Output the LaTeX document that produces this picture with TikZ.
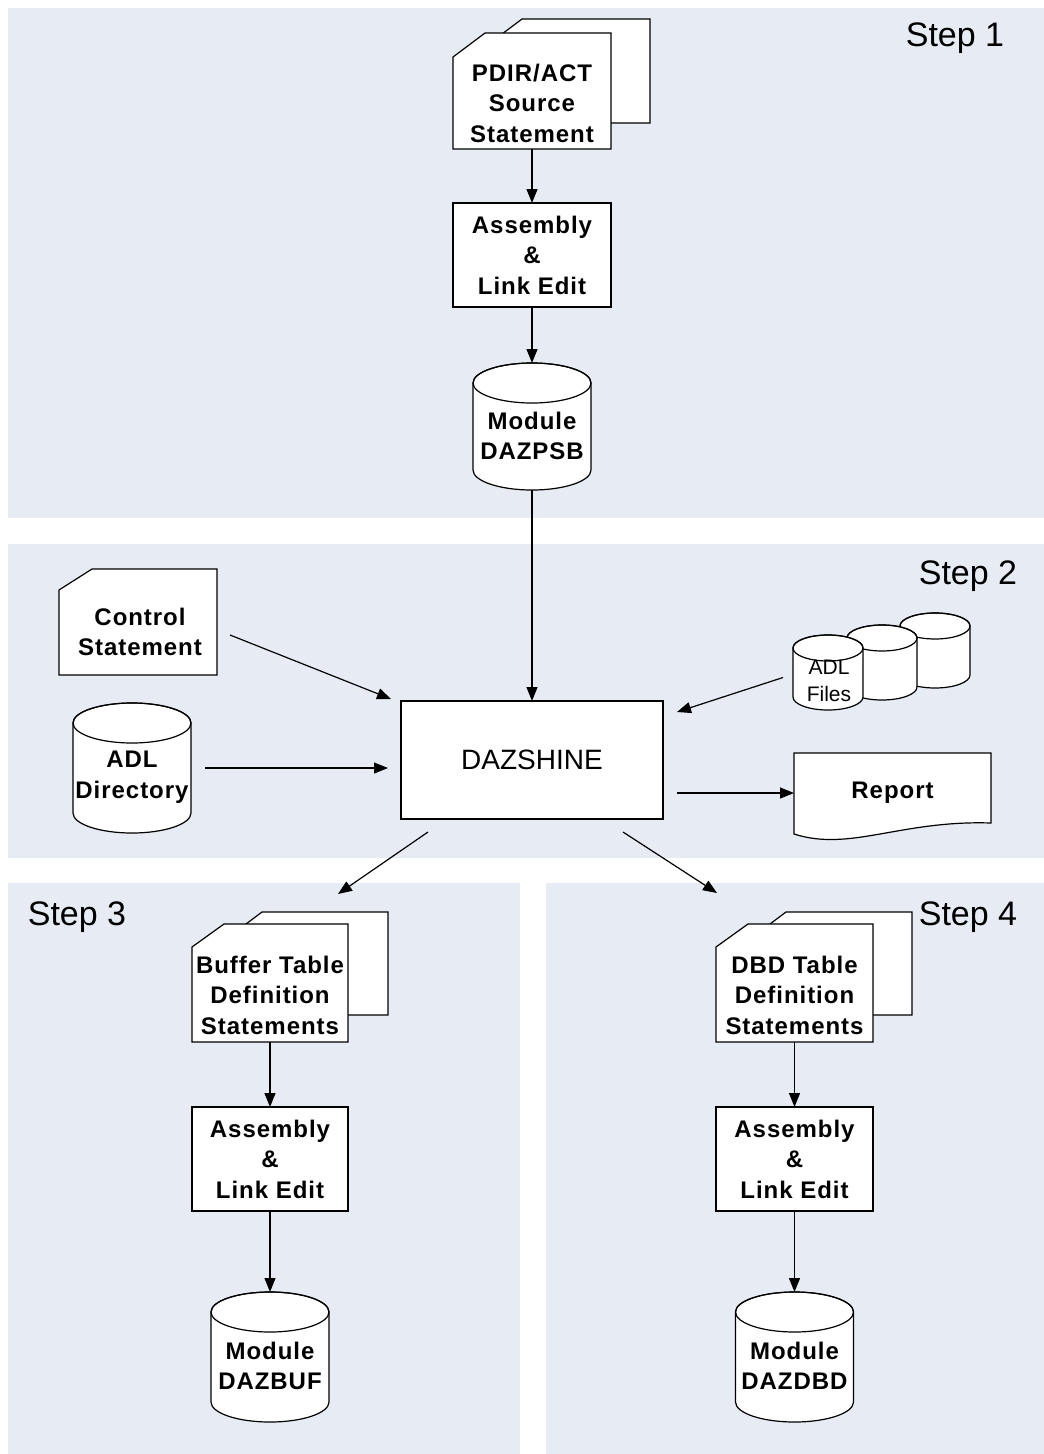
\documentclass[tikz,border=0pt]{standalone}
\usepackage{fontspec}
\setmainfont{Liberation Sans}
\usetikzlibrary{arrows.meta,calc}
\definecolor{panel}{RGB}{231,235,243}
\tikzset{
  outline/.style={draw=black, line width=1.2pt, fill=white, line join=miter},
  shapebox/.style={draw=none, inner sep=0pt, outer sep=0pt, rectangle},
  lbl/.style={align=center, font=\fontsize{24}{30.5}\selectfont\bfseries\addfontfeature{LetterSpace=4}, inner sep=0pt},
  smalllbl/.style={align=center, font=\fontsize{21}{27}\selectfont, inner sep=0pt},
  biglbl/.style={font=\fontsize{28}{32}\selectfont},
  steplbl/.style={font=\fontsize{34}{40}\selectfont, inner sep=0pt},
  arr/.style={draw=black, line width=1.2pt, -{Triangle[length=14pt,width=11pt]}},
}
\newcommand{\mycard}[6]{\draw[outline] (#1,#2+#6) -- (#1+#5,#2) -- (#3,#2) -- (#3,#4) -- (#1,#4) -- cycle;}
\newcommand{\mycyl}[5]{%
  \draw[outline] (#1-#4,#2+#5) -- (#1-#4,#3-#5) arc[start angle=180,end angle=360,x radius=#4pt,y radius=#5pt] -- (#1+#4,#2+#5) arc[start angle=0,end angle=180,x radius=#4pt,y radius=#5pt] -- cycle;
  \draw[line width=1.2pt] (#1,#2+#5) ellipse[x radius=#4pt, y radius=#5pt];}
\begin{document}
\begin{tikzpicture}[x=1pt,y=-1pt]
\useasboundingbox (0,0) rectangle (1044,1454);
% panels
\fill[white] (0,0) rectangle (1044,1454);
\fill[panel] (8,8) rectangle (1044,518);
\fill[panel] (8,544) rectangle (1044,858);
\fill[panel] (8,883) rectangle (520,1454);
\fill[panel] (546,883) rectangle (1044,1454);

% shape outlines
\mycard{490}{19}{650}{123}{32}{24}
\mycard{453}{33}{611}{149}{32}{24}
\draw[outline] (453,203) rectangle (611,307);
\mycyl{532}{363}{490}{59}{20}
\mycard{59}{569}{217}{675}{33}{21}
\mycyl{132}{703}{833}{59}{20}
\draw[outline] (401,701) rectangle (663,819);
\mycyl{935}{613}{688}{35}{13}
\mycyl{882}{625}{700}{35}{13}
\mycyl{828}{635}{710}{35}{13}
\draw[outline] (794,753) -- (991,753) -- (991,823) .. controls (900,820) and (850,852) .. (794,834) -- cycle;
\mycard{230}{912}{388}{1015}{32}{24}
\mycard{192}{924}{348}{1042}{32}{23}
\draw[outline] (192,1107) rectangle (348,1211);
\mycyl{270}{1292}{1422}{59}{20}
\mycard{754}{912}{912}{1015}{32}{24}
\mycard{716}{924}{873}{1042}{32}{23}
\draw[outline] (716,1107) rectangle (873,1211);
\mycyl{794.5}{1292}{1422}{59}{20}

% shape nodes
\node[shapebox, minimum width=158pt, minimum height=116pt] (pdir) at (532,91) {};
\node[shapebox, lbl, minimum width=158pt, minimum height=104pt] (asmA) at (532,255) {Assembly\\\&\\Link Edit};
\node[shapebox, minimum width=118pt, minimum height=127pt] (psb) at (532,426.5) {};
\node[shapebox, minimum width=158pt, minimum height=106pt] (ctrl) at (138,622) {};
\node[shapebox, minimum width=118pt, minimum height=130pt] (adld) at (132,768) {};
\node[shapebox, biglbl, minimum width=262pt, minimum height=118pt] (daz) at (532,760) {DAZSHINE};
\node[shapebox, minimum width=70pt, minimum height=75pt] (adlf) at (828,672.5) {};
\node[shapebox, lbl, minimum width=197pt, minimum height=80pt] (report) at (892.5,793) {Report};
\node[shapebox, minimum width=156pt, minimum height=118pt] (buf) at (270,983) {};
\node[shapebox, lbl, minimum width=156pt, minimum height=104pt] (asmB) at (270,1159) {Assembly\\\&\\Link Edit};
\node[shapebox, minimum width=118pt, minimum height=130pt] (dbuf) at (270,1357) {};
\node[shapebox, minimum width=157pt, minimum height=118pt] (dbd) at (794.5,983) {};
\node[shapebox, lbl, minimum width=157pt, minimum height=104pt] (asmC) at (794.5,1159) {Assembly\\\&\\Link Edit};
\node[shapebox, minimum width=118pt, minimum height=130pt] (ddbd) at (794.5,1357) {};

% texts
\node[lbl] (pdirT) at (532,103) {PDIR/ACT\\Source\\Statement};
\node[lbl] (psbT) at (532,436) {Module\\DAZPSB};
\node[lbl] (ctrlT) at (140,632) {Control\\Statement};
\node[lbl] (adldT) at (132,777) {ADL\\Directory};
\node[smalllbl] (adlfT) at (829,681) {ADL\\Files};
\node[lbl] (bufT) at (270,995) {Buffer Table\\Definition\\Statements};
\node[lbl] (dbufT) at (270,1366) {Module\\DAZBUF};
\node[lbl] (dbdT) at (794.5,995) {DBD Table\\Definition\\Statements};
\node[lbl] (ddbdT) at (794.5,1366) {Module\\DAZDBD};

\node[steplbl] (s1) at (955,38) {Step 1};
\node[steplbl] (s2) at (968,576) {Step 2};
\node[steplbl] (s3) at (77,917) {Step 3};
\node[steplbl] (s4) at (968,917) {Step 4};

% connectors
\draw[arr] (pdir.south) -- (asmA.north);
\draw[arr] (asmA.south) -- (psb.north);
\draw[arr] (psb.south) -- (daz.north);
\draw[arr] ([xshift=13pt,yshift=-13pt]ctrl.east) -- ([xshift=-10pt,yshift=2pt]daz.north west);
\draw[arr] ([xshift=14pt]adld.east) -- ([xshift=-13pt,yshift=-8pt]daz.west);
\draw[arr] ([xshift=-10pt,yshift=-5pt]adlf.west) -- ([xshift=14pt,yshift=-11pt]daz.north east);
\draw[arr] ([xshift=14pt,yshift=-33pt]daz.east) -- (report.west);
\draw[arr] ([xshift=27pt,yshift=-13pt]daz.south west) -- ([xshift=-10pt,yshift=30pt]buf.north east);
\draw[arr] ([xshift=-40pt,yshift=-13pt]daz.south east) -- ([xshift=1pt,yshift=31pt]dbd.north west);
\draw[arr] (buf.south) -- (asmB.north);
\draw[arr] (asmB.south) -- (dbuf.north);
\draw[arr] (dbd.south) -- (asmC.north);
\draw[arr] (asmC.south) -- (ddbd.north);
\end{tikzpicture}
\end{document}
